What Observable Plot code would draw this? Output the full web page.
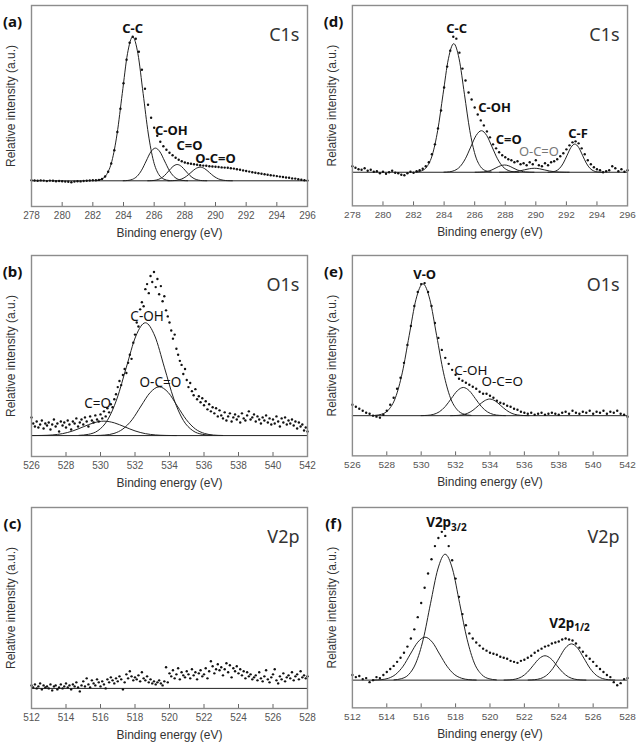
<!DOCTYPE html>
<html><head><meta charset="utf-8">
<script src="https://cdn.jsdelivr.net/npm/d3@7"></script>
<script src="https://cdn.jsdelivr.net/npm/@observablehq/plot@0.6"></script>
<style>
body{margin:0;background:#fff;}
#fig{position:relative;width:640px;height:745px;overflow:hidden;background:#fff;}
.panel{position:absolute;}
</style></head><body><div id="fig"></div>
<script>
// ---------- (a) C1s ----------
const aEnergy = d3.range(278, 296.001, 0.2);
const aIntensity = [
 0.5,0.3,0,0.4,0.2,-0.3,0.2,0,-0.4,-0.2,
 -0.5,-0.8,-1.0,-1.4,-0.8,-0.4,-0.6,-0.2,0,0.3,
 0.5,0.6,0.9,1.9,4.3,9.1,17.3,30.5,48.8,72,
 97.6,121,138,144,142,129,111,92,76,63,
 53,45,39,34.5,31,28,25.5,23,21,19.5,
 18.3,17.5,17,16.5,16,15.5,15.2,15,14.6,14.3,
 14,13.8,13.4,13.2,13,12.6,12.2,11.6,11,10.4,
 9.8,9.2,8.6,8,7.5,7,6.5,6,5.6,5.2,
 4.7,4.2,3.8,3.3,3,2.4,2.2,1.5,1,0.6,
 0.2];
const aCC_E = [282.22,282.56,282.9,283.24,283.58,283.92,284.26,284.6,284.94,285.28,285.62,285.96,286.3,286.64,286.98];
const aCC_I = [0.3,1.6,6.3,19.5,46.8,87.3,127.1,144,127.1,87.3,46.8,19.5,6.3,1.6,0.3];
const aCOH_E = [283.98,284.28,284.58,284.88,285.18,285.48,285.78,286.08,286.38,286.68,286.98,287.28,287.58,287.88,288.18];
const aCOH_I = [0.07,0.36,1.44,4.42,10.6,19.8,28.9,32.7,28.9,19.8,10.6,4.42,1.44,0.36,0.07];
const aCO_E = [285.58,285.85,286.13,286.4,286.68,286.95,287.23,287.5,287.78,288.05,288.33,288.6,288.88,289.15,289.43];
const aCO_I = [0.04,0.18,0.72,2.21,5.29,9.89,14.38,16.3,14.38,9.89,5.29,2.21,0.72,0.18,0.04];
const aOCO_E = [286.9,287.2,287.5,287.8,288.1,288.4,288.7,289.0,289.3,289.6,289.9,290.2,290.5,290.8,291.1];
const aOCO_I = [0.03,0.15,0.6,1.85,4.45,8.31,12.09,13.7,12.09,8.31,4.45,1.85,0.6,0.15,0.03];

// ---------- (d) C1s ----------
const dEnergy = d3.range(278, 296.001, 0.2);
const dIntensity = [
 6,4.5,3,2.5,4,1.5,2.5,0.5,1,-1,
 0.5,-1.5,0,1.5,-0.5,-1,-2.5,-3,-1,0.5,
 -0.5,1,2,3.5,6,10,18,28,44,62,
 85,106,122,136,134,120,104,92,80,73,
 65,58,52,47,41,35,28,24,20,17,
 15,13,12,10,11,8,9,7,10,8,
 12,7,6,9,7,10,11,13,16,19,
 23,27,30,31,29,24,18,12,8,5,
 3,2,0,1,2,6,4,1,3,0.5,
 2];
const dCC_E = [282.18,282.53,282.88,283.23,283.58,283.93,284.28,284.63,284.98,285.33,285.68,286.03,286.38,286.73,287.08];
const dCC_I = [0.28,1.43,5.66,17.45,41.89,78.24,113.84,129,113.84,78.24,41.89,17.45,5.66,1.43,0.28];
const dCOH_E = [283.99,284.34,284.69,285.04,285.39,285.74,286.09,286.44,286.79,287.14,287.49,287.84,288.19,288.54,288.89];
const dCOH_I = [0.09,0.46,1.83,5.64,13.54,25.29,36.8,41.7,36.8,25.29,13.54,5.64,1.83,0.46,0.09];
const dCO_E = [286.03,286.3,286.58,286.85,287.13,287.4,287.68,287.95,288.23,288.5,288.78,289.05,289.33,289.6,289.88];
const dCO_I = [0.02,0.08,0.32,0.99,2.37,4.43,6.44,7.3,6.44,4.43,2.37,0.99,0.32,0.08,0.02];
const dOCO_E = [287.63,287.95,288.28,288.6,288.93,289.25,289.58,289.9,290.23,290.55,290.88,291.2,291.53,291.85,292.18];
const dOCO_I = [0.01,0.04,0.18,0.54,1.3,2.43,3.53,4,3.53,2.43,1.3,0.54,0.18,0.04,0.01];
const dCF_E = [290.8,291.05,291.3,291.55,291.8,292.05,292.3,292.55,292.8,293.05,293.3,293.55,293.8,294.05,294.3];
const dCF_I = [0.06,0.31,1.24,3.83,9.19,17.16,24.97,28.3,24.97,17.16,9.19,3.83,1.24,0.31,0.06];

// ---------- (b) O1s ----------
const bEnergy = d3.range(526, 542.001, 0.1);
const bIntensity = [
 18,12,9,14,8,11,15,7,12,10,
 13,6,11,16,9,12,4,14,10,13,
 8,15,11,6,14,12,17,9,13,16,
 11,18,14,9,19,15,13,20,16,14,
 21,17,24,19,27,23,31,28,36,41,
 48,54,50,60,66,62,72,80,76,92,
 100,112,108,125,132,128,145,150,141,158,
 152,162,147,155,140,148,133,138,124,118,
 112,104,96,100,86,80,74,70,61,66,
 55,48,52,44,40,46,36,39,33,37,
 30,34,26,31,24,28,22,27,19,25,
 20,17,23,15,19,22,14,18,21,16,
 19,13,22,17,15,20,24,16,18,21,
 14,19,16,12,18,15,20,13,17,11,
 16,12,19,14,9,17,13,18,11,15,
 12,16,10,14,7,13,9,11,5,8,
 4];
const bCOH_E = [528.75,529.3,529.85,530.4,530.95,531.5,532.05,532.6,533.15,533.7,534.25,534.8,535.35,535.9,536.45];
const bCOH_I = [0.25,1.24,4.9,15.11,36.27,67.75,98.57,111.7,98.57,67.75,36.27,15.11,4.9,1.24,0.25];
const bOCO_E = [529.73,530.25,530.78,531.3,531.83,532.35,532.88,533.4,533.93,534.45,534.98,535.5,536.03,536.55,537.08];
const bOCO_I = [0.11,0.54,2.12,6.54,15.68,29.29,42.62,48.3,42.62,29.29,15.68,6.54,2.12,0.54,0.11];
const bCO_E = [526.0,526.6,527.2,527.8,528.4,529.0,529.6,530.2,530.8,531.4,532.0,532.6,533.2,533.8,534.4];
const bCO_I = [0.03,0.16,0.63,1.93,4.64,8.67,12.62,14.3,12.62,8.67,4.64,1.93,0.63,0.16,0.03];

// ---------- (e) O1s ----------
const eEnergy = d3.range(526, 542.001, 0.2);
const eIntensity = [
 11,9,7,5,3,2,0,-1,-2,1,
 5,11,18,27,38,53,71,90,110,124,
 132,133,124,110,93,78,66,58,52,46,
 41,37,35,33,31,29,27,24,22,22,
 20,18,15,13,12,10,9,7,6,4,
 3,2,3,1,2,3,1,2,3,2,
 1,3,4,2,5,3,2,4,3,5,
 2,4,3,5,2,4,3,5,2,1,
 -1];
const eVO_E = [527.3,527.7,528.1,528.5,528.9,529.3,529.7,530.1,530.5,530.9,531.3,531.7,532.1,532.5,532.9];
const eVO_I = [0.29,1.47,5.81,17.9,42.96,80.24,116.75,132.3,116.75,80.24,42.96,17.9,5.81,1.47,0.29];
const eCOH_E = [530.0,530.35,530.7,531.05,531.4,531.75,532.1,532.45,532.8,533.15,533.5,533.85,534.2,534.55,534.9];
const eCOH_I = [0.06,0.31,1.24,3.83,9.19,17.16,24.97,28.3,24.97,17.16,9.19,3.83,1.24,0.31,0.06];
const eOCO_E = [531.71,532.03,532.36,532.68,533.01,533.33,533.66,533.98,534.31,534.63,534.96,535.28,535.61,535.93,536.26];
const eOCO_I = [0.04,0.19,0.73,2.26,5.42,10.13,14.74,16.7,14.74,10.13,5.42,2.26,0.73,0.19,0.04];

// ---------- (c) V2p ----------
const cEnergy = d3.range(512, 528.001, 0.1);
const cIntensity = [
 3,1,4,0,2,5,-1,3,1,2,
 0,4,-2,2,3,-1,1,4,0,2,
 5,1,3,-1,4,2,6,1,-3,3,
 7,2,10,4,1,8,5,3,9,6,
 2,7,4,0,9,6,11,8,5,10,
 7,12,9,-1,6,14,10,17,12,8,
 11,9,13,7,16,10,8,12,6,9,
 5,7,4,6,8,5,3,7,21,6,
 15,12,18,10,14,20,9,16,13,11,
 17,14,10,19,13,16,9,15,18,12,
 14,20,10,17,27,22,15,19,24,18,
 21,13,19,25,16,23,11,20,17,22,
 15,19,13,17,10,16,12,14,9,11,
 13,8,16,10,7,12,18,9,6,11,
 14,19,8,5,12,9,15,7,11,13,
 10,16,8,12,14,9,17,11,13,10,
 12];

// ---------- (f) V2p ----------
const fEnergy = d3.range(512, 528.001, 0.2);
const fIntensity = [
 5,3,4,1,2,-2,0,3,2,5,
 8,11,14,18,22,27,33,41,50,62,
 76,91,105,119,132,140,146,142,132,118,
 100,82,65,54,46,41,37,34,31,29,
 27,26,25,23,22,21,19,18,17,19,
 20,22,24,27,29,31,33,34,36,37,
 38,40,41,40,39,36,32,28,24,21,
 18,14,11,8,5,3,-2,-5,-3,1,
 2];
const fMain_E = [514.42,514.84,515.27,515.69,516.12,516.54,516.97,517.39,517.82,518.24,518.67,519.09,519.52,519.94,520.37];
const fMain_I = [0.27,1.38,5.44,16.78,40.26,75.21,109.43,124,109.43,75.21,40.26,16.78,5.44,1.38,0.27];
const fSh_E = [513.25,513.67,514.1,514.52,514.95,515.37,515.8,516.22,516.65,517.07,517.5,517.92,518.35,518.77,519.2];
const fSh_I = [0.09,0.47,1.86,5.72,13.73,25.65,37.33,42.3,37.33,25.65,13.73,5.72,1.86,0.47,0.09];
const fP1_E = [520.82,521.16,521.5,521.84,522.18,522.52,522.86,523.2,523.54,523.88,524.22,524.56,524.9,525.24,525.58];
const fP1_I = [0.05,0.27,1.05,3.25,7.79,14.56,21.18,24,21.18,14.56,7.79,3.25,1.05,0.27,0.05];
const fP2_E = [522.22,522.58,522.94,523.3,523.66,524.02,524.38,524.74,525.1,525.46,525.82,526.18,526.54,526.9,527.26];
const fP2_I = [0.08,0.4,1.57,4.83,11.59,21.65,31.5,35.7,31.5,21.65,11.59,4.83,1.57,0.4,0.08];

// tick labels
const cTicks = [278,280,282,284,286,288,290,292,294,296];
const oTicks = [526,528,530,532,534,536,538,540,542];
const vTicks = [512,514,516,518,520,522,524,526,528];

// peak annotations (energy, intensity, text)
const aBold = [{e:284.6,v:152,t:"C-C"},{e:287.12,v:49.5,t:"C-OH"},{e:288.3,v:34.8,t:"C=O"},{e:290.0,v:22.3,t:"O-C=O"}];
const dBold = [{e:284.82,v:144,t:"C-C"},{e:287.3,v:65,t:"C-OH"},{e:288.23,v:33,t:"C=O"},{e:292.76,v:39,t:"C-F"}];
const dGray = [{e:290.2,v:20.3,t:"O-C=O"}];
const bPlain = [{e:532.7,v:117.3,t:"C-OH"},{e:533.47,v:52.7,t:"O-C=O"},{e:529.84,v:31.7,t:"C=O"}];
const eBold = [{e:530.2,v:141.7,t:"V-O"}];
const ePlain = [{e:532.89,v:45,t:"C-OH"},{e:534.71,v:33.7,t:"O-C=O"}];
const fMainLab = [{e:517.74,v:155,t:"V2p",s:"3/2"},{e:524.9,v:56,t:"V2p",s:"1/2"}];

const fontAxis = "'Liberation Sans', Arial, sans-serif";
const fontLab = "'Noto Sans', 'Open Sans', sans-serif";
const zip = (xs, ys) => xs.map((x, i) => ({e: x, v: ys[i]}));

function panel(o) {
  const marks = [
    Plot.ruleX(o.ticks.slice(1, -1), {insetTop: 197, stroke: "#666", strokeWidth: 1}),
    Plot.ruleY([0], {stroke: "#222", strokeWidth: 1}),
    ...o.comps.map(([xs, ys]) => Plot.line(zip(xs, ys), {x: "e", y: "v", stroke: "#222", strokeWidth: 1, curve: "monotone-x"})),
    Plot.dot(zip(o.energy, o.intensity), {x: "e", y: "v", r: 1.2, fill: "#111"}),
    Plot.frame({stroke: "#8c8c8c", strokeWidth: 1.4}),
    Plot.axisX(o.ticks, {tickSize: 0, tickPadding: 5, fontSize: 10, fill: "#555", label: null, fontFamily: fontAxis}),
    Plot.text(["Binding energy (eV)"], {frameAnchor: "bottom", dy: 30, fontSize: 12, fill: "#333", fontFamily: fontAxis}),
    Plot.text(["Relative intensity (a.u.)"], {frameAnchor: "left", dx: -20, rotate: -90, textAnchor: "middle", fontSize: 12, fill: "#333", fontFamily: fontAxis}),
    Plot.text([o.letter], {frameAnchor: "top-left", dx: -19, dy: 11, textAnchor: "middle", fontSize: 15, fontWeight: "bold", fill: "#111", fontFamily: fontLab}),
    Plot.text([o.core], {frameAnchor: "top-right", dx: -8, dy: 23, textAnchor: "end", fontSize: 18, fill: "#333", fontFamily: fontLab})
  ];
  if (o.bold) marks.push(Plot.text(o.bold, {x: "e", y: "v", text: "t", fontSize: 13, fontWeight: "bold", fill: "#111", fontFamily: fontLab}));
  if (o.plain) marks.push(Plot.text(o.plain, {x: "e", y: "v", text: "t", fontSize: 13.5, fill: "#111", fontFamily: fontLab}));
  if (o.gray) marks.push(Plot.text(o.gray, {x: "e", y: "v", text: "t", fontSize: 13, fill: "#777", fontFamily: fontLab}));
  if (o.sub) {
    marks.push(Plot.text(o.sub, {x: "e", y: "v", text: "t", textAnchor: "end", fontSize: 13.5, fontWeight: "bold", fill: "#111", fontFamily: fontLab}));
    marks.push(Plot.text(o.sub, {x: "e", y: "v", text: "s", textAnchor: "start", dy: 5, fontSize: 10, fontWeight: "bold", fill: "#111", fontFamily: fontLab}));
  }
  const svg = Plot.plot({
    width: 320, height: 244,
    marginTop: 5, marginRight: 13, marginBottom: 38, marginLeft: 31,
    x: {domain: o.xDomain},
    y: {domain: o.yDomain, axis: null},
    style: {fontFamily: fontAxis, fontSize: "10px", background: "transparent", overflow: "visible"},
    marks
  });
  const div = document.createElement("div");
  div.className = "panel";
  div.style.left = o.left + "px";
  div.style.top = o.top + "px";
  div.appendChild(svg);
  document.getElementById("fig").appendChild(div);
}

panel({letter: "(a)", core: "C1s", left: 0, top: 0, xDomain: [278, 296], yDomain: [-25.7, 175.3], ticks: cTicks,
  energy: aEnergy, intensity: aIntensity,
  comps: [[aCC_E, aCC_I], [aCOH_E, aCOH_I], [aCO_E, aCO_I], [aOCO_E, aOCO_I]], bold: aBold});
panel({letter: "(d)", core: "C1s", left: 321, top: 0, xDomain: [278, 296], yDomain: [-33.7, 167.3], ticks: cTicks,
  energy: dEnergy, intensity: dIntensity,
  comps: [[dCC_E, dCC_I], [dCOH_E, dCOH_I], [dCO_E, dCO_I], [dOCO_E, dOCO_I], [dCF_E, dCF_I]], bold: dBold, gray: dGray});
panel({letter: "(b)", core: "O1s", left: 0, top: 250, xDomain: [526, 542], yDomain: [-20.7, 178.3], ticks: oTicks,
  energy: bEnergy, intensity: bIntensity,
  comps: [[bCOH_E, bCOH_I], [bOCO_E, bOCO_I], [bCO_E, bCO_I]], plain: bPlain});
panel({letter: "(e)", core: "O1s", left: 321, top: 250, xDomain: [526, 542], yDomain: [-40.3, 160.7], ticks: oTicks,
  energy: eEnergy, intensity: eIntensity,
  comps: [[eVO_E, eVO_I], [eCOH_E, eCOH_I], [eOCO_E, eOCO_I]], bold: eBold, plain: ePlain});
panel({letter: "(c)", core: "V2p", left: 0, top: 502, xDomain: [512, 528], yDomain: [-20, 180], ticks: vTicks,
  energy: cEnergy, intensity: cIntensity, comps: []});
panel({letter: "(f)", core: "V2p", left: 321, top: 502, xDomain: [512, 528], yDomain: [-27.3, 170], ticks: vTicks,
  energy: fEnergy, intensity: fIntensity,
  comps: [[fMain_E, fMain_I], [fSh_E, fSh_I], [fP1_E, fP1_I], [fP2_E, fP2_I]], sub: fMainLab});
</script></body></html>
